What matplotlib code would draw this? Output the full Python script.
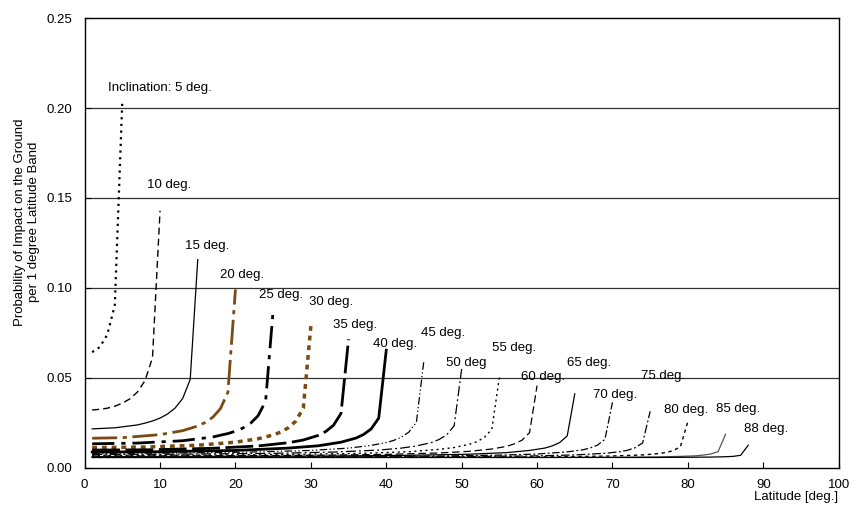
import matplotlib
matplotlib.use("Agg")
import matplotlib.pyplot as plt

plt.rcParams["font.family"] = ["Liberation Sans", "DejaVu Sans"]

# Impact probability per 1-degree latitude band
# (x = upper edge of the latitude band, one curve per orbit inclination)
inc_05_x = [1, 2, 3, 4, 5]
inc_05_y = [0.0642, 0.0670, 0.0739, 0.0903, 0.2046]
inc_10_x = [1, 2, 3, 4, 5, 6, 7, 8, 9, 10]
inc_10_y = [0.0320, 0.0324, 0.0330, 0.0341, 0.0358, 0.0382, 0.0420, 0.0483, 0.0611, 0.1429]
inc_15_x = [1, 4, 7, 8, 9, 10, 11, 12, 13, 14, 15]
inc_15_y = [0.0215, 0.0221, 0.0237, 0.0247, 0.0259, 0.0275, 0.0298, 0.0331, 0.0384, 0.0490, 0.1157]
inc_20_x = [1, 5, 10, 13, 15, 16, 17, 18, 19, 20]
inc_20_y = [0.0163, 0.0166, 0.0183, 0.0205, 0.0231, 0.0251, 0.0280, 0.0327, 0.0419, 0.0991]
inc_25_x = [1, 7, 13, 17, 19, 20, 21, 22, 23, 24, 25]
inc_25_y = [0.0132, 0.0136, 0.0149, 0.0170, 0.0189, 0.0202, 0.0220, 0.0246, 0.0288, 0.0369, 0.0875]
inc_30_x = [1, 8, 15, 20, 23, 25, 26, 27, 28, 29, 30]
inc_30_y = [0.0111, 0.0114, 0.0124, 0.0141, 0.0160, 0.0181, 0.0197, 0.0221, 0.0258, 0.0331, 0.0787]
inc_35_x = [1, 9, 17, 23, 27, 29, 31, 32, 33, 34, 35]
inc_35_y = [0.0097, 0.0099, 0.0107, 0.0120, 0.0138, 0.0153, 0.0179, 0.0201, 0.0235, 0.0301, 0.0714]
inc_40_x = [1, 10, 20, 27, 31, 34, 36, 37, 38, 39, 40]
inc_40_y = [0.0086, 0.0088, 0.0095, 0.0108, 0.0121, 0.0141, 0.0164, 0.0184, 0.0215, 0.0275, 0.0653]
inc_45_x = [1, 11, 22, 30, 35, 38, 40, 41, 42, 43, 44, 45]
inc_45_y = [0.0079, 0.0080, 0.0086, 0.0095, 0.0108, 0.0123, 0.0139, 0.0151, 0.0169, 0.0197, 0.0253, 0.0598]
inc_50_x = [1, 12, 25, 33, 39, 42, 44, 46, 47, 48, 49, 50]
inc_50_y = [0.0073, 0.0074, 0.0079, 0.0086, 0.0097, 0.0108, 0.0120, 0.0139, 0.0156, 0.0181, 0.0232, 0.0548]
inc_55_x = [1, 14, 28, 37, 43, 47, 49, 51, 52, 53, 54, 55]
inc_55_y = [0.0068, 0.0069, 0.0073, 0.0079, 0.0088, 0.0101, 0.0111, 0.0129, 0.0143, 0.0167, 0.0213, 0.0501]
inc_60_x = [1, 15, 30, 40, 47, 51, 54, 56, 57, 58, 59, 60]
inc_60_y = [0.0064, 0.0065, 0.0068, 0.0073, 0.0081, 0.0090, 0.0103, 0.0118, 0.0132, 0.0152, 0.0194, 0.0456]
inc_65_x = [1, 16, 32, 43, 51, 56, 59, 61, 62, 63, 64, 65]
inc_65_y = [0.0061, 0.0062, 0.0064, 0.0068, 0.0074, 0.0083, 0.0095, 0.0108, 0.0120, 0.0139, 0.0176, 0.0410]
inc_70_x = [1, 18, 35, 47, 55, 60, 64, 66, 67, 68, 69, 70]
inc_70_y = [0.0059, 0.0060, 0.0061, 0.0064, 0.0069, 0.0075, 0.0087, 0.0098, 0.0108, 0.0124, 0.0157, 0.0363]
inc_75_x = [1, 19, 38, 50, 59, 65, 69, 71, 72, 73, 74, 75]
inc_75_y = [0.0058, 0.0058, 0.0059, 0.0061, 0.0064, 0.0070, 0.0079, 0.0088, 0.0096, 0.0110, 0.0137, 0.0313]
inc_80_x = [1, 20, 40, 53, 63, 70, 74, 76, 77, 78, 79, 80]
inc_80_y = [0.0056, 0.0057, 0.0057, 0.0058, 0.0060, 0.0064, 0.0070, 0.0077, 0.0083, 0.0093, 0.0115, 0.0256]
inc_85_x = [1, 40, 60, 70, 76, 79, 81, 82, 83, 84, 85]
inc_85_y = [0.0056, 0.0056, 0.0056, 0.0057, 0.0059, 0.0062, 0.0065, 0.0069, 0.0075, 0.0088, 0.0185]
inc_88_x = [1, 40, 60, 70, 76, 80, 83, 85, 86, 87, 88]
inc_88_y = [0.0056, 0.0056, 0.0056, 0.0056, 0.0056, 0.0057, 0.0058, 0.0060, 0.0062, 0.0068, 0.0124]

inclinations = [5, 10, 15, 20, 25, 30, 35, 40, 45, 50, 55, 60, 65, 70, 75, 80, 85, 88]
series_x = [inc_05_x, inc_10_x, inc_15_x, inc_20_x, inc_25_x, inc_30_x, inc_35_x, inc_40_x, inc_45_x,
            inc_50_x, inc_55_x, inc_60_x, inc_65_x, inc_70_x, inc_75_x, inc_80_x, inc_85_x, inc_88_x]
series_y = [inc_05_y, inc_10_y, inc_15_y, inc_20_y, inc_25_y, inc_30_y, inc_35_y, inc_40_y, inc_45_y,
            inc_50_y, inc_55_y, inc_60_y, inc_65_y, inc_70_y, inc_75_y, inc_80_y, inc_85_y, inc_88_y]
labels = ["Inclination: 5 deg.", "10 deg.", "15 deg.", "20 deg.", "25 deg.", "30 deg.",
          "35 deg.", "40 deg.", "45 deg.", "50 deg", "55 deg.", "60 deg.", "65 deg.",
          "70 deg.", "75 deg.", "80 deg.", "85 deg.", "88 deg."]
label_x = [10.0, 11.2, 16.3, 20.9, 26.1, 32.7, 35.9, 41.2, 47.5, 50.6, 57.0, 60.8, 66.9,
           70.3, 76.7, 79.8, 86.6, 90.4]
label_y = [0.2110, 0.1570, 0.1230, 0.1070, 0.0958, 0.0921, 0.0792, 0.0690, 0.0749, 0.0579,
           0.0666, 0.0505, 0.0582, 0.0403, 0.0508, 0.0319, 0.0323, 0.0212]

BROWN = "#7b4a12"
styles = [
    dict(color="black", lw=1.6, dashes=(1, 2.0)),
    dict(color="black", lw=1.0, dashes=(5, 3)),
    dict(color="black", lw=0.9, ls="-"),
    dict(color=BROWN, lw=2.0, dashes=(9, 2, 1.5, 2)),
    dict(color="black", lw=2.0, dashes=(8, 2.5, 1.5, 2.5)),
    dict(color=BROWN, lw=2.5, dashes=(1.4, 1.4)),
    dict(color="black", lw=2.0, dashes=(10, 2)),
    dict(color="black", lw=2.0, ls="-"),
    dict(color="black", lw=0.9, dashes=(6, 2, 1, 2, 1, 2)),
    dict(color="black", lw=0.9, dashes=(8, 2.5, 1.5, 2.5)),
    dict(color="black", lw=1.0, dashes=(1.5, 2.5)),
    dict(color="black", lw=0.9, dashes=(6, 3)),
    dict(color="black", lw=0.9, ls="-"),
    dict(color="black", lw=0.9, dashes=(6, 2, 1.5, 2)),
    dict(color="black", lw=0.9, dashes=(7, 2, 1.5, 2)),
    dict(color="black", lw=1.0, dashes=(2.5, 2.5)),
    dict(color="#555555", lw=0.9, ls="-"),
    dict(color="black", lw=0.9, ls="-"),
]

FS = 9.5

fig = plt.figure(figsize=(8.61, 5.11), dpi=100)
ax = fig.add_axes([0.0983, 0.0851, 0.8758, 0.8791])

for y in [0.05, 0.10, 0.15, 0.20]:
    ax.axhline(y, color="#333333", lw=0.9, zorder=1)

for xs, ys, st in zip(series_x, series_y, styles):
    ax.plot(xs, ys, zorder=2, **st)

for txt, tx, ty in zip(labels, label_x, label_y):
    ax.text(tx, ty, txt, ha="center", va="center", fontsize=FS, zorder=3)

ax.set_xlim(0, 100)
ax.set_ylim(0, 0.25)
ax.set_xticks(range(0, 101, 10))
ax.set_yticks([0.00, 0.05, 0.10, 0.15, 0.20, 0.25])
ax.set_yticklabels(["0.00", "0.05", "0.10", "0.15", "0.20", "0.25"])
ax.tick_params(direction="in", length=4, width=0.8, labelsize=FS)
ax.tick_params(axis="x", pad=8)
ax.tick_params(axis="y", pad=9)
for sp in ax.spines.values():
    sp.set_linewidth(1.0)

fig.text(0.974, 1 - 491 / 511, "Latitude [deg.]", ha="right", va="top", fontsize=FS)
fig.text(27 / 861, 1 - 222 / 511, "Probability of Impact on the Ground\nper 1 degree Latitude Band",
         ha="center", va="center", rotation=90, fontsize=FS, linespacing=1.15)

fig.savefig("out.png", dpi=100)
